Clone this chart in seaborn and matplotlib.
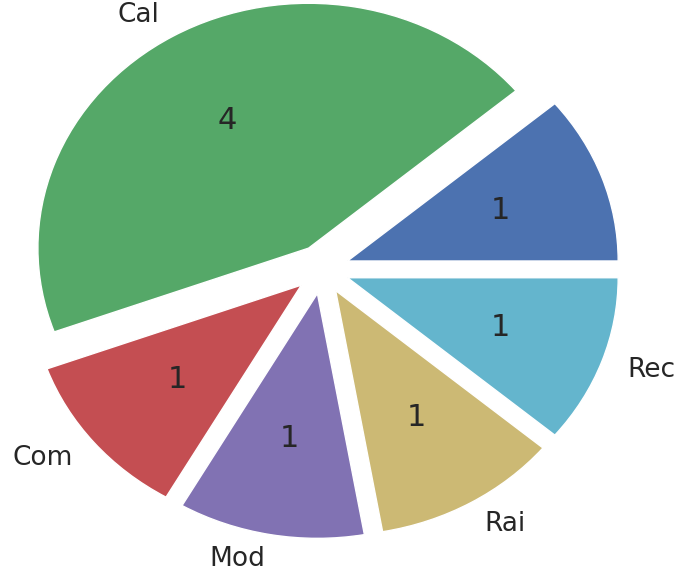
import matplotlib
matplotlib.use("Agg")
import matplotlib.pyplot as plt
import seaborn as sns

sns.set_style("white")
plt.rcParams['font.family'] = ['DejaVu Sans']

# category counts (first category has an empty name)
categories = ['', 'Cal', 'Com', 'Mod', 'Rai', 'Rec']
counts = [1, 4, 1, 1, 1, 1]
explode = [0.1] * len(counts)

total = sum(counts)
colors = sns.color_palette("deep6")

fig = plt.figure(figsize=(6.78, 5.73), dpi=100)
ax = fig.add_axes([0, 0, 1, 1])
wedges, texts, autotexts = ax.pie(
    counts, labels=categories, colors=colors, explode=explode,
    autopct=lambda p: f"{p * total / 100:.0f}",
    textprops={'color': '#262626'})
for t in texts:
    t.set_fontsize(19)
for t in autotexts:
    t.set_fontsize(22)

# the original pie is stretched a bit wider than tall and cropped on the right
ax.set_aspect('auto')
ax.set_xlim(-1.19, 1.315)
ax.set_ylim(-1.24, 1.10)
ax.axis('off')

fig.savefig("out.png", dpi=100)
